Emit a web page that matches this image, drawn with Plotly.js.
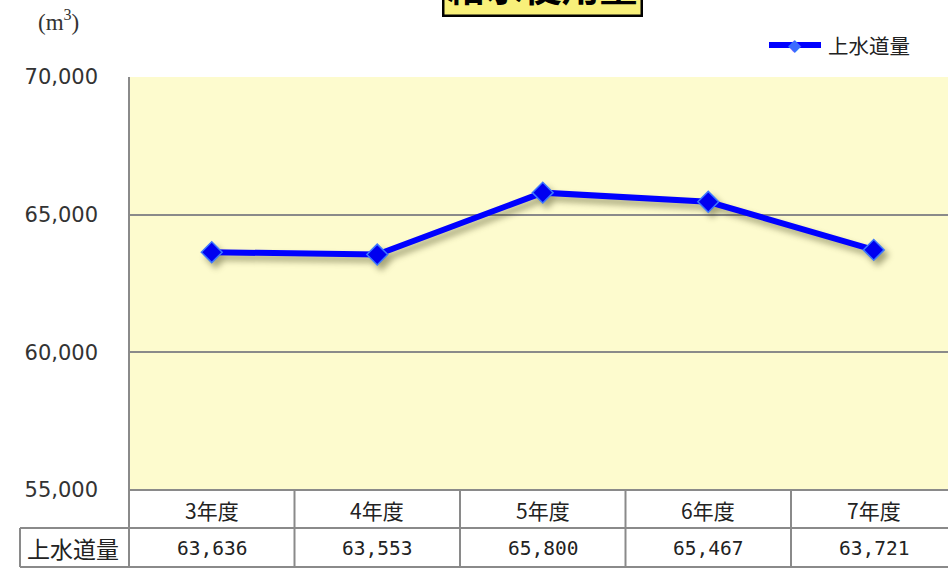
<!DOCTYPE html>
<html><head><meta charset="utf-8">
<script src="https://cdn.plot.ly/plotly-3.0.1.min.js"></script>
<style>html,body{margin:0;padding:0;background:#fff}#c{width:948px;height:569px}</style>
</head><body><div id="c"></div>
<script>
const categories = ['3年度','4年度','5年度','6年度','7年度'];
const seriesName = '上水道量';
const values = [63636, 63553, 65800, 65467, 63721];
const valueLabels = ['63,636','63,553','65,800','65,467','63,721'];
const yTicks = [55000, 60000, 65000, 70000];
const chartTitle = '給水使用量';
const unitLabel = '(m<sup>3</sup>)';

const W = 948, H = 569, L = 129, T = 77, B = 490;
const pw = W - L, ph = B - T;
const py = px => (B - px) / ph;           // pixel y -> paper y
const pxX = px => (px - L) / pw;          // pixel x -> paper x
const gray = '#8a8a8a';
const jp = '"Noto Sans CJK JP", sans-serif';

const idx = categories.map((c,i)=>i);
const shapes = [];
shapes.push({type:'line',xref:'paper',yref:'paper',x0:0,x1:1,y0:0,y1:0,line:{color:gray,width:2}});
shapes.push({type:'line',xref:'paper',yref:'paper',x0:pxX(20),x1:1,y0:py(528),y1:py(528),line:{color:gray,width:2}});
shapes.push({type:'line',xref:'paper',yref:'paper',x0:pxX(20),x1:1,y0:py(567),y1:py(567),line:{color:gray,width:2}});
shapes.push({type:'line',xref:'paper',yref:'paper',x0:0,x1:0,y0:1,y1:py(567),line:{color:gray,width:2}});
shapes.push({type:'line',xref:'paper',yref:'paper',x0:pxX(20),x1:pxX(20),y0:py(528),y1:py(567),line:{color:gray,width:2}});
idx.slice(0,-1).forEach(i=>{
  shapes.push({type:'line',xref:'x',yref:'paper',x0:i+0.5,x1:i+0.5,y0:0,y1:py(567),line:{color:gray,width:2}});
});
// legend key line
shapes.push({type:'line',xref:'paper',yref:'paper',x0:pxX(769),x1:pxX(821),y0:py(45),y1:py(45),line:{color:'#0000FF',width:6}});

const annotations = [];
categories.forEach((c,i)=>{
  annotations.push({x:i,xref:'x',y:py(510),yref:'paper',text:c,showarrow:false,xanchor:'center',yanchor:'middle',
    font:{family:jp,size:21,color:'#222'}});
  annotations.push({x:i,xref:'x',y:py(548),yref:'paper',text:valueLabels[i],showarrow:false,xanchor:'center',yanchor:'middle',
    font:{family:'"DejaVu Sans Mono", monospace',size:19.5,color:'#222'}});
});
annotations.push({x:pxX(73),xref:'paper',y:py(548),yref:'paper',text:seriesName,showarrow:false,xanchor:'center',yanchor:'middle',
  font:{family:jp,size:23,color:'#222'}});
annotations.push({x:pxX(58),xref:'paper',y:py(21),yref:'paper',text:unitLabel,showarrow:false,xanchor:'center',yanchor:'middle',
  font:{family:'"Liberation Serif", serif',size:23,color:'#333'}});
annotations.push({x:pxX(542),xref:'paper',y:py(17),yref:'paper',xanchor:'center',yanchor:'bottom',text:'<b>'+chartTitle+'</b>',showarrow:false,
  font:{family:jp,size:38,color:'#000'},bgcolor:'#F8F07A',bordercolor:'#000',borderwidth:2.5,borderpad:3});
// legend key marker and label
annotations.push({x:pxX(795),xref:'paper',y:py(45),yref:'paper',xanchor:'center',yanchor:'middle',text:'◆',showarrow:false,
  font:{family:'"DejaVu Sans", sans-serif',size:17,color:'#3C6CFF'}});
annotations.push({x:pxX(826),xref:'paper',y:py(45),yref:'paper',xanchor:'left',yanchor:'middle',text:seriesName,showarrow:false,
  font:{family:jp,size:20.5,color:'#222'}});

const trace = {
  x: idx, y: values, name: seriesName, type:'scatter', mode:'lines+markers',
  line:{color:'#0000FF',width:6},
  marker:{symbol:'diamond',size:16,color:'#0000F0',line:{color:'#3C78FF',width:1.5}},
  hoverinfo:'skip'
};

const layout = {
  width:W, height:H,
  margin:{l:L,r:0,t:T,b:H-B,pad:0},
  paper_bgcolor:'#ffffff', plot_bgcolor:'#FDFBCE',
  showlegend:false,
  xaxis:{range:[-0.5, 4.5 - (956.5-948)/165.5], showticklabels:false, showgrid:false, zeroline:false, showline:false, fixedrange:true},
  yaxis:{range:[55000,70000], tickvals:yTicks, tickformat:',', showgrid:true, gridcolor:gray, gridwidth:2,
    zeroline:false, showline:false, ticks:'', ticklabelstandoff:30,
    tickfont:{family:'"DejaVu Sans", sans-serif',size:21,color:'#333'}, fixedrange:true},
  shapes:shapes, annotations:annotations
};

Plotly.newPlot('c',[trace],layout,{displayModeBar:false,staticPlot:true}).then(()=>{
  document.querySelectorAll('.cartesianlayer .scatterlayer .trace').forEach(t=>{
    t.style.filter='drop-shadow(4px 5px 3px rgba(60,60,20,0.45))';
  });
});
</script></body></html>
